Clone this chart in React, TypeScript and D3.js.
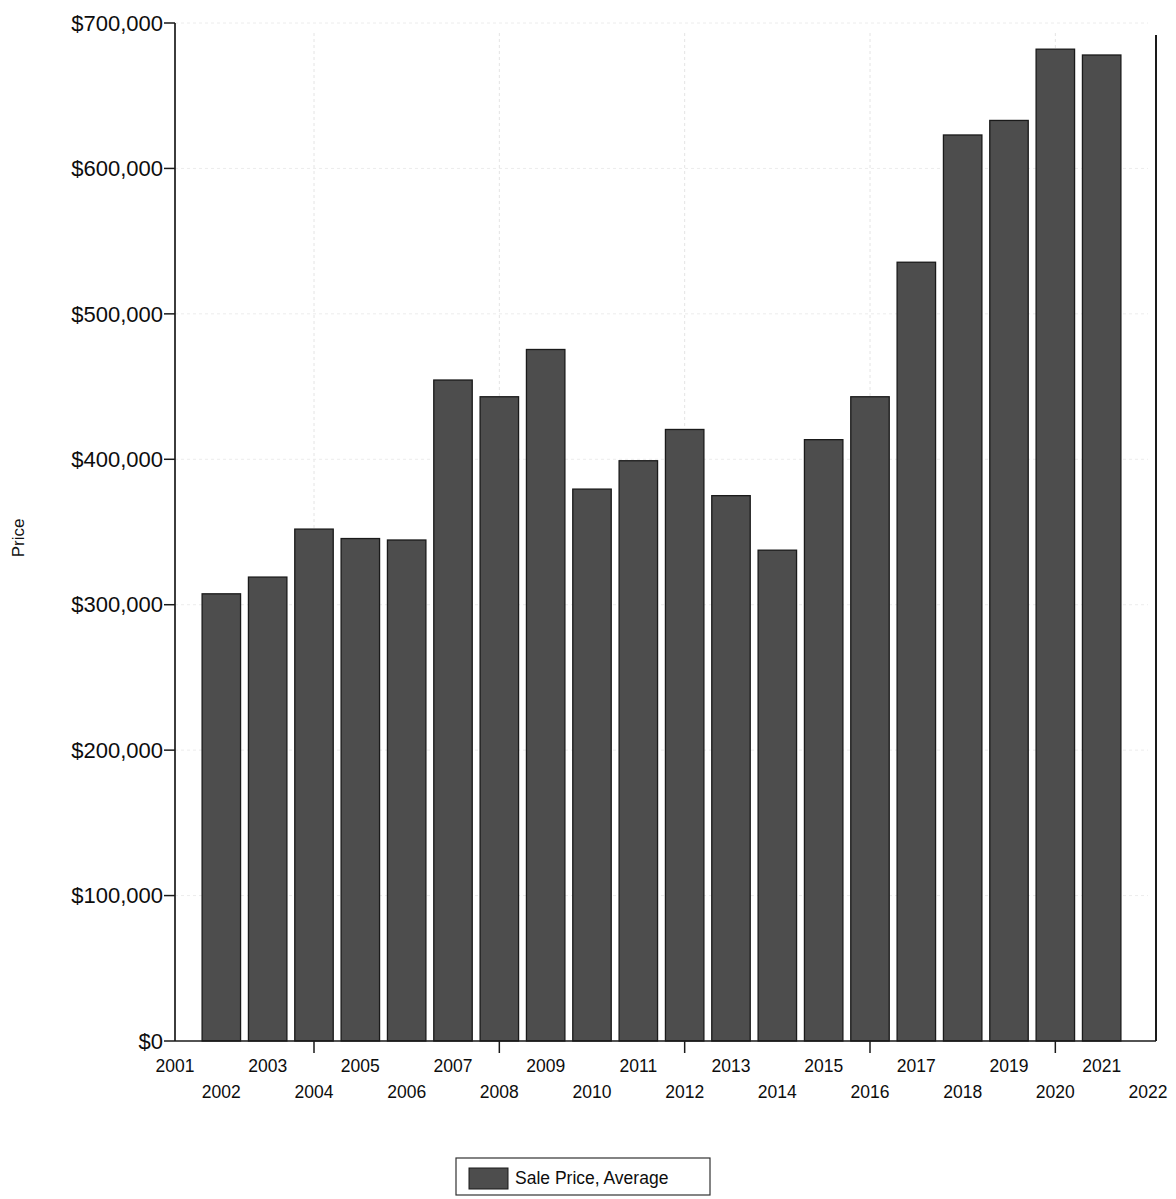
import React from "react";
import * as d3 from "d3";

const years: number[] = [2002, 2003, 2004, 2005, 2006, 2007, 2008, 2009, 2010, 2011, 2012, 2013, 2014, 2015, 2016, 2017, 2018, 2019, 2020, 2021];
const avgPrice: number[] = [307500, 319000, 352000, 345500, 344500, 454500, 443000, 475500, 379500, 399000, 420500, 375000, 337500, 413500, 443000, 535500, 623000, 633000, 682000, 678000];
const yTicks: number[] = [0, 100000, 200000, 300000, 400000, 500000, 600000, 700000];
const xLabelYears: number[] = d3.range(2001, 2023);
const xTickYears: number[] = [2004, 2008, 2012, 2016, 2020];
const seriesName = "Sale Price, Average";
const yTitle = "Price";

const W = 1176;
const H = 1199;
const left = 175;
const right = 1148;
const top = 23;
const bottom = 1041;

export default function App() {
  const x = d3.scaleLinear().domain([2001, 2022]).range([left, right]);
  const y = d3.scaleLinear().domain([0, 700000]).range([bottom, top]);
  const step = x(2002) - x(2001);
  const bw = step * 0.83;
  const fmt = (v: number) => "$" + d3.format(",")(v);
  const font = "'Liberation Sans', Arial, Helvetica, sans-serif";

  return (
    <svg width={W} height={H} style={{ position: "absolute", left: 0, top: 0, background: "#fff" }} fontFamily={font}>
      {/* faint gridlines */}
      {xTickYears.map((t) => (
        <line key={"gx" + t} x1={x(t)} x2={x(t)} y1={top + 10} y2={bottom} stroke="#e4e4e4" strokeWidth={1} strokeDasharray="3,3" />
      ))}
      {yTicks.slice(1).map((t) => (
        <line key={"gy" + t} x1={left} x2={right} y1={y(t)} y2={y(t)} stroke="#ececec" strokeWidth={1} strokeDasharray="3,3" />
      ))}
      {/* bars */}
      {years.map((yr, i) => (
        <rect
          key={yr}
          x={x(yr) - bw / 2}
          y={y(avgPrice[i])}
          width={bw}
          height={bottom - y(avgPrice[i])}
          fill="#4d4d4d"
          stroke="#1a1a1a"
          strokeWidth={1.3}
        />
      ))}
      {/* axes */}
      <line x1={left} x2={left} y1={top} y2={bottom} stroke="#1a1a1a" strokeWidth={1.7} />
      <line x1={right + 8} x2={right + 8} y1={35} y2={bottom} stroke="#1a1a1a" strokeWidth={2} />
      <line x1={left} x2={right + 8} y1={bottom} y2={bottom} stroke="#1a1a1a" strokeWidth={1.7} />
      {yTicks.map((t) => (
        <g key={"yt" + t}>
          <line x1={left - 11} x2={left} y1={y(t)} y2={y(t)} stroke="#1a1a1a" strokeWidth={1.5} />
          <text x={left - 12} y={y(t)} dy="0.35em" textAnchor="end" fontSize={22} fill="#0d0d0d">
            {fmt(t)}
          </text>
        </g>
      ))}
      {xTickYears.map((t) => (
        <line key={"xt" + t} x1={x(t)} x2={x(t)} y1={bottom} y2={bottom + 12} stroke="#1a1a1a" strokeWidth={1.5} />
      ))}
      {xLabelYears.map((t) => (
        <text
          key={"xl" + t}
          x={x(t)}
          y={t % 2 === 1 ? 1072 : 1098}
          textAnchor="middle"
          fontSize={17.5}
          fill="#0d0d0d"
        >
          {t}
        </text>
      ))}
      <text transform={`translate(24,538) rotate(-90)`} textAnchor="middle" fontSize={17} fill="#111">
        {yTitle}
      </text>
      {/* legend */}
      <g>
        <rect x={456} y={1158} width={254} height={37} fill="#fff" stroke="#333" strokeWidth={1.2} />
        <rect x={469} y={1168} width={39} height={21} fill="#4d4d4d" stroke="#1a1a1a" strokeWidth={1} />
        <text x={515} y={1178} dy="0.35em" fontSize={17.5} fill="#0d0d0d">
          {seriesName}
        </text>
      </g>
    </svg>
  );
}
